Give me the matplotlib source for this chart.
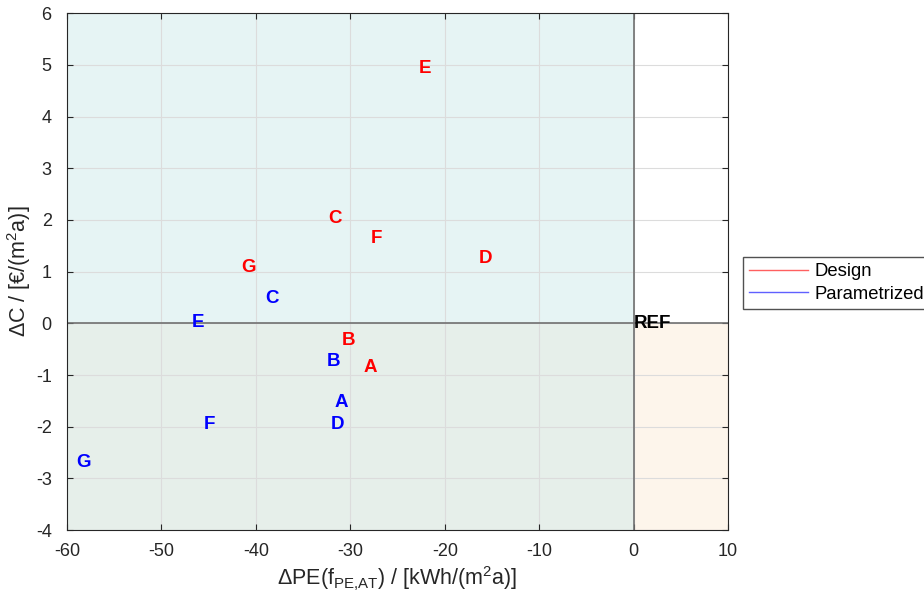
import matplotlib
matplotlib.use("Agg")
import matplotlib.pyplot as plt
from matplotlib.lines import Line2D

plt.rcParams['font.family'] = ['Liberation Sans', 'DejaVu Sans']
plt.rcParams['axes.unicode_minus'] = False
plt.rcParams['mathtext.fontset'] = 'custom'
plt.rcParams['mathtext.rm'] = 'Liberation Sans'
plt.rcParams['mathtext.it'] = 'Liberation Sans'

design_labels = ['A', 'B', 'C', 'D', 'E', 'F', 'G']
design_x = [-27.9, -30.2, -31.6, -15.7, -22.1, -27.2, -40.8]
design_y = [-0.85, -0.34, 2.02, 1.26, 4.94, 1.65, 1.09]

param_labels = ['A', 'B', 'C', 'D', 'E', 'F', 'G']
param_x = [-31.0, -31.8, -38.3, -31.4, -46.1, -44.9, -58.2]
param_y = [-1.54, -0.73, 0.49, -1.95, 0.02, -1.95, -2.70]

xticks = [-60, -50, -40, -30, -20, -10, 0, 10]
yticks = [-4, -3, -2, -1, 0, 1, 2, 3, 4, 5, 6]

fig = plt.figure(figsize=(9.24, 6.03), dpi=100)
ax = fig.add_axes([0.0725, 0.121, 0.7155, 0.857])
ax.set_xlim(-60, 10)
ax.set_ylim(-4, 6)

ax.axvspan(-60, 0, ymin=0.4, ymax=1.0, color='#e6f4f4', zorder=0, lw=0)
ax.axvspan(-60, 0, ymin=0.0, ymax=0.4, color='#e6efea', zorder=0, lw=0)
ax.axvspan(0, 10, ymin=0.0, ymax=0.4, color='#fdf5eb', zorder=0, lw=0)

ax.set_xticks(xticks)
ax.set_yticks(yticks)
ax.grid(True, color='#dcdcdc', lw=0.8, zorder=1)
ax.set_axisbelow(True)
ax.axhline(0, color='#707070', lw=1.2, zorder=2)
ax.axvline(0, color='#707070', lw=1.2, zorder=2)

for lab, x, y in zip(design_labels, design_x, design_y):
    ax.text(x, y, lab, color='#ff0000', fontsize=13.5, fontweight='bold',
            ha='center', va='center', zorder=3)
for lab, x, y in zip(param_labels, param_x, param_y):
    ax.text(x, y, lab, color='#0000ff', fontsize=13.5, fontweight='bold',
            ha='center', va='center', zorder=3)
ax.text(0, 0.0, 'REF', color='black', fontsize=13.5, fontweight='bold',
        ha='left', va='center', zorder=3)

ax.tick_params(direction='in', labelsize=13, colors='#262626', length=4,
               top=True, right=True)
ax.tick_params(axis='x', pad=9)
ax.tick_params(axis='y', pad=11)
for s in ax.spines.values():
    s.set_color('#262626')
    s.set_linewidth(0.8)

ax.set_xlabel(r'$\Delta$PE(f$_{\mathrm{PE{,}AT}}$) / [kWh/(m$^{\mathrm{2}}$a)]',
              fontsize=15.5, color='#262626', labelpad=4)
ax.set_ylabel(r'$\Delta$C / [€/(m$^{\mathrm{2}}$a)]', fontsize=15.5,
              color='#262626', labelpad=2)

handles = [Line2D([], [], color='#ff6060', lw=1), Line2D([], [], color='#6060ff', lw=1)]
fig.legend(handles, ['Design', 'Parametrized'], loc='upper left',
           bbox_to_anchor=(0.804, 0.574), fontsize=13.3, frameon=True,
           fancybox=False, edgecolor='#262626', handlelength=3.2,
           borderpad=0.35, labelspacing=0.3, borderaxespad=0, handletextpad=0.3)

fig.savefig('out.png', dpi=100)
